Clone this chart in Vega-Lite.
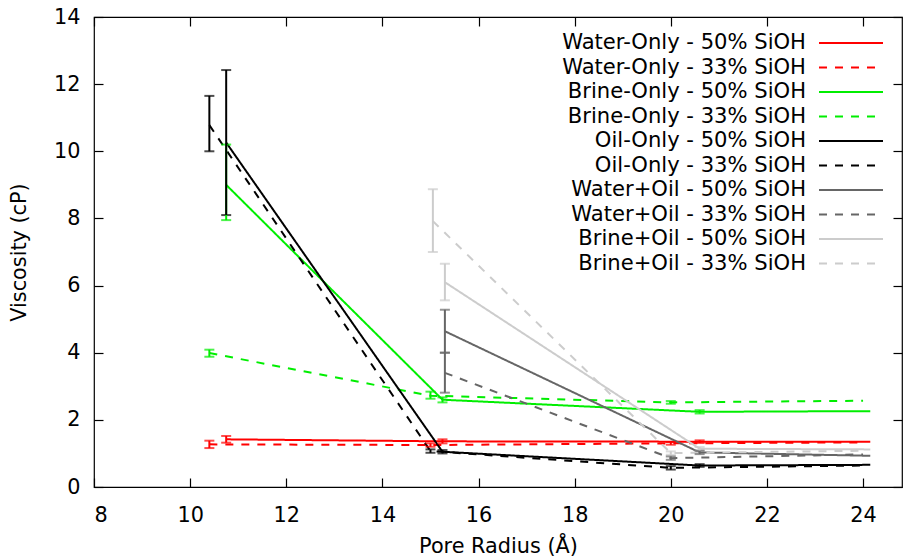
{
  "$schema": "https://vega.github.io/schema/vega-lite/v6.json",
  "width": 808,
  "height": 470,
  "autosize": {"type": "none"},
  "padding": {"left": 94, "top": 17, "right": 1, "bottom": 73},
  "background": "white",
  "config": {
    "view": {"stroke": "black", "strokeWidth": 1.2},
    "font": "DejaVu Sans",
    "axis": {
      "grid": false,
      "domain": false,
      "tickColor": "black",
      "tickWidth": 1.2,
      "tickSize": -9,
      "labelFont": "DejaVu Sans",
      "labelFontSize": 20.8,
      "labelColor": "black",
      "titleFont": "DejaVu Sans",
      "titleFontSize": 20.8,
      "titleFontWeight": "normal",
      "titleColor": "black"
    }
  },
  "datasets": {
    "d": [
      {"series": "Water-Only - 50% SiOH", "x": 10.75, "y": 1.42, "lo": 1.32, "hi": 1.52},
      {"series": "Water-Only - 50% SiOH", "x": 15.25, "y": 1.36, "lo": 1.3, "hi": 1.42},
      {"series": "Water-Only - 50% SiOH", "x": 20.6, "y": 1.35, "lo": 1.31, "hi": 1.39},
      {"series": "Water-Only - 50% SiOH", "x": 24.15, "y": 1.35, "lo": null, "hi": null},
      {"series": "Water-Only - 33% SiOH", "x": 10.4, "y": 1.27, "lo": 1.16, "hi": 1.38},
      {"series": "Water-Only - 33% SiOH", "x": 15.0, "y": 1.25, "lo": 1.2, "hi": 1.3},
      {"series": "Water-Only - 33% SiOH", "x": 20.0, "y": 1.3, "lo": 1.26, "hi": 1.34},
      {"series": "Water-Only - 33% SiOH", "x": 24.0, "y": 1.33, "lo": null, "hi": null},
      {"series": "Brine-Only - 50% SiOH", "x": 10.75, "y": 9.0, "lo": 7.95, "hi": 10.2},
      {"series": "Brine-Only - 50% SiOH", "x": 15.25, "y": 2.6, "lo": 2.52, "hi": 2.67},
      {"series": "Brine-Only - 50% SiOH", "x": 20.6, "y": 2.24, "lo": 2.19, "hi": 2.29},
      {"series": "Brine-Only - 50% SiOH", "x": 24.15, "y": 2.26, "lo": null, "hi": null},
      {"series": "Brine-Only - 33% SiOH", "x": 10.4, "y": 3.99, "lo": 3.88, "hi": 4.09},
      {"series": "Brine-Only - 33% SiOH", "x": 15.0, "y": 2.72, "lo": 2.63, "hi": 2.84},
      {"series": "Brine-Only - 33% SiOH", "x": 20.0, "y": 2.52, "lo": 2.48, "hi": 2.56},
      {"series": "Brine-Only - 33% SiOH", "x": 24.0, "y": 2.57, "lo": null, "hi": null},
      {"series": "Oil-Only - 50% SiOH", "x": 10.75, "y": 10.26, "lo": 8.1, "hi": 12.42},
      {"series": "Oil-Only - 50% SiOH", "x": 15.25, "y": 1.05, "lo": 1.0, "hi": 1.1},
      {"series": "Oil-Only - 50% SiOH", "x": 20.6, "y": 0.64, "lo": 0.6, "hi": 0.68},
      {"series": "Oil-Only - 50% SiOH", "x": 24.15, "y": 0.66, "lo": null, "hi": null},
      {"series": "Oil-Only - 33% SiOH", "x": 10.4, "y": 10.78, "lo": 10.0, "hi": 11.65},
      {"series": "Oil-Only - 33% SiOH", "x": 15.0, "y": 1.07, "lo": 1.02, "hi": 1.12},
      {"series": "Oil-Only - 33% SiOH", "x": 20.0, "y": 0.57, "lo": 0.52, "hi": 0.62},
      {"series": "Oil-Only - 33% SiOH", "x": 24.0, "y": 0.64, "lo": null, "hi": null},
      {"series": "Water+Oil - 50% SiOH", "x": 15.3, "y": 4.64, "lo": 4.0, "hi": 5.28},
      {"series": "Water+Oil - 50% SiOH", "x": 20.6, "y": 1.03, "lo": 0.98, "hi": 1.08},
      {"series": "Water+Oil - 50% SiOH", "x": 24.15, "y": 0.93, "lo": null, "hi": null},
      {"series": "Water+Oil - 33% SiOH", "x": 15.3, "y": 3.4, "lo": 2.81, "hi": 4.0},
      {"series": "Water+Oil - 33% SiOH", "x": 20.0, "y": 0.86, "lo": 0.81, "hi": 0.91},
      {"series": "Water+Oil - 33% SiOH", "x": 24.0, "y": 0.97, "lo": null, "hi": null},
      {"series": "Brine+Oil - 50% SiOH", "x": 15.3, "y": 6.1, "lo": 5.56, "hi": 6.65},
      {"series": "Brine+Oil - 50% SiOH", "x": 20.6, "y": 1.14, "lo": 1.09, "hi": 1.19},
      {"series": "Brine+Oil - 50% SiOH", "x": 24.15, "y": 1.12, "lo": null, "hi": null},
      {"series": "Brine+Oil - 33% SiOH", "x": 15.05, "y": 7.92, "lo": 7.0, "hi": 8.87},
      {"series": "Brine+Oil - 33% SiOH", "x": 20.0, "y": 1.01, "lo": 0.96, "hi": 1.06},
      {"series": "Brine+Oil - 33% SiOH", "x": 24.0, "y": 1.08, "lo": null, "hi": null}
    ]
  },
  "data": {"name": "d"},
  "layer": [
    {
      "mark": {"type": "line", "strokeWidth": 2},
      "encoding": {
        "x": {
          "field": "x", "type": "quantitative",
          "scale": {"domain": [8, 24.81], "nice": false, "zero": false},
          "axis": {"orient": "bottom", "title": "Pore Radius (Å)", "values": [8, 10, 12, 14, 16, 18, 20, 22, 24], "labelPadding": 27, "titlePadding": 12}
        },
        "y": {
          "field": "y", "type": "quantitative",
          "scale": {"domain": [0, 14], "nice": false},
          "axis": {"orient": "left", "title": "Viscosity (cP)", "values": [0, 2, 4, 6, 8, 10, 12, 14], "labelPadding": 23, "titlePadding": 24}
        },
        "color": {
          "field": "series", "type": "nominal", "title": null,
          "scale": {
            "domain": ["Water-Only - 50% SiOH", "Water-Only - 33% SiOH", "Brine-Only - 50% SiOH", "Brine-Only - 33% SiOH", "Oil-Only - 50% SiOH", "Oil-Only - 33% SiOH", "Water+Oil - 50% SiOH", "Water+Oil - 33% SiOH", "Brine+Oil - 50% SiOH", "Brine+Oil - 33% SiOH"],
            "range": ["#ff0000", "#ff0000", "#00ee00", "#00ee00", "#000000", "#000000", "#666666", "#666666", "#cccccc", "#cccccc"]
          },
          "legend": {
            "orient": "top-right",
            "offset": 15,
            "padding": 0,
            "labelFont": "DejaVu Sans",
            "labelFontSize": 21.1,
            "labelColor": "black",
            "labelAlign": "right",
            "labelOffset": -56,
            "labelLimit": 400,
            "symbolType": "M-3.2,0H3.2",
            "symbolSize": 400,
            "symbolStrokeWidth": 2,
            "rowPadding": 2.5
          }
        },
        "strokeDash": {
          "field": "series", "type": "nominal", "title": null,
          "scale": {
            "domain": ["Water-Only - 50% SiOH", "Water-Only - 33% SiOH", "Brine-Only - 50% SiOH", "Brine-Only - 33% SiOH", "Oil-Only - 50% SiOH", "Oil-Only - 33% SiOH", "Water+Oil - 50% SiOH", "Water+Oil - 33% SiOH", "Brine+Oil - 50% SiOH", "Brine+Oil - 33% SiOH"],
            "range": [[1, 0], [8, 8], [1, 0], [8, 8], [1, 0], [8, 8], [1, 0], [8, 8], [1, 0], [8, 8]]
          }
        }
      }
    },
    {
      "transform": [{"filter": "datum.lo != null"}],
      "mark": {"type": "errorbar", "ticks": {"size": 10}, "thickness": 2},
      "encoding": {
        "x": {"field": "x", "type": "quantitative", "axis": null},
        "y": {"field": "lo", "type": "quantitative", "axis": null},
        "y2": {"field": "hi"},
        "color": {"field": "series", "type": "nominal", "legend": null}
      }
    },
    {
      "mark": {"type": "point", "opacity": 0},
      "encoding": {
        "x": {"field": "x", "type": "quantitative", "axis": {"orient": "top", "labels": false, "title": null, "values": [8, 10, 12, 14, 16, 18, 20, 22, 24]}},
        "y": {"field": "y", "type": "quantitative", "axis": {"orient": "right", "labels": false, "title": null, "values": [0, 2, 4, 6, 8, 10, 12, 14]}}
      }
    }
  ],
  "resolve": {"axis": {"x": "independent", "y": "independent"}}
}
